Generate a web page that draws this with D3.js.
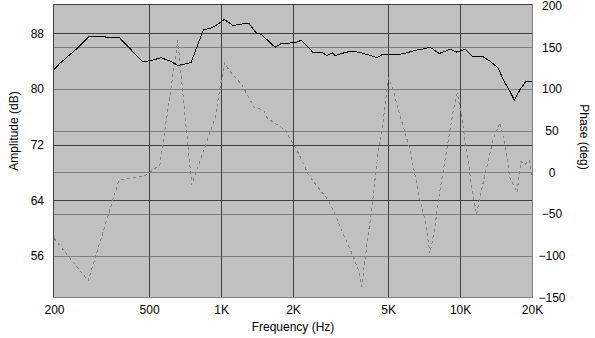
<!DOCTYPE html>
<html>
<head>
<meta charset="utf-8">
<script src="https://cdn.jsdelivr.net/npm/d3@7/dist/d3.min.js"></script>
<style>
  html, body { margin: 0; padding: 0; background: #ffffff; }
  svg { display: block; }
  text { font-family: Arial, "Liberation Sans", sans-serif; fill: #000; }
</style>
</head>
<body>
<svg id="chart" width="595" height="338"></svg>
<script>
// Frequency response measurement: amplitude (solid) and phase (dashed)
const ampFreq = [200,212,253,281,325,330,375,470,489,513,561,612,659,667,749,843,914,950,1032,1125,
  1181,1309,1397,1479,1682,1782,1943,2072,2160,2246,2432,2636,2768,2920,2998,3198,3464,3752,4132,4506,
  4700,5008,5432,5982,6586,7136,7488,8188,8650,9078,9682,10490,11364,12510,13346,14456,15170,15918,16868,17814,
  18878,20000];
const ampDb = [82.8,83.7,86.0,87.6,87.6,87.4,87.4,83.9,84.0,84.1,84.5,84.0,83.4,83.4,83.8,88.5,88.8,89.1,90.0,89.1,
  89.3,89.4,88.1,87.8,86.0,86.5,86.6,86.7,87.0,86.5,85.2,85.3,84.8,85.2,84.8,85.1,85.4,85.3,84.9,84.5,
  84.9,85.0,84.9,85.2,85.6,85.8,86.0,85.1,85.4,85.7,85.3,85.7,84.6,84.6,84.0,83.0,81.3,80.1,78.4,79.9,
  81.1,81.0];

const phaseFreq = [200,278,374,481,555,659,754,943,1032,1090,1220,1300,1374,1502,1561,1852,2072,2208,2318,2594,
  2768,2948,3146,3354,3576,3752,3878,4002,4132,4270,4406,4550,4774,5008,5258,5514,6176,6798,7136,7488,
  7856,8110,8650,9370,9738,10190,10796,11220,11738,12036,12714,13736,14694,15418,16180,17308,17990,18694,19428,20000];
const phaseDeg = [-79,-130,-9,-4,9,158,-15,65,131,121,105,91,78,75,65,51,27,11,-3,-21,
  -31,-45,-65,-83,-101,-117,-137,-105,-73,-45,-9,27,63,113,99,75,27,-33,-57,-97,
  -65,-33,15,75,95,63,15,-21,-50,-33,-3,39,60,33,-7,-24,13,9,15,-4];

const freqTicks = [200,500,1000,2000,5000,10000,20000];
const freqTickLabels = ["200","500","1K","2K","5K","10K","20K"];
const ampTicks = [88,80,72,64,56];
const phaseTicks = [200,150,100,50,0,-50,-100,-150];
const phaseGrid = [150,100,50,0,-50,-100];

const svg = d3.select("#chart");

const x = d3.scaleLog().domain([200, 20000]).range([54, 532]);
const yAmp = d3.scaleLinear().domain([50, 92]).range([297.5, 5.5]);
const yPh = d3.scaleLinear().domain([-150, 200]).range([297.5, 5.5]);

const L = 53, R = 533, T = 4, B = 298;

// plot background
svg.append("rect")
  .attr("x", L).attr("y", T).attr("width", R - L).attr("height", B - T)
  .attr("fill", "#c0c0c0");

const grid = svg.append("g").attr("shape-rendering", "crispEdges");

// amplitude gridlines (dark)
grid.selectAll("line.amp").data(ampTicks).join("line")
  .attr("x1", L).attr("x2", R)
  .attr("y1", d => Math.round(yAmp(d)) + 0.5).attr("y2", d => Math.round(yAmp(d)) + 0.5)
  .attr("stroke", "#404040");

// phase gridlines (mid gray)
grid.selectAll("line.ph").data(phaseGrid).join("line")
  .attr("x1", L).attr("x2", R)
  .attr("y1", d => Math.round(yPh(d)) + 0.5).attr("y2", d => Math.round(yPh(d)) + 0.5)
  .attr("stroke", "#808080");

// frequency gridlines (dark)
grid.selectAll("line.f").data(freqTicks.slice(1, -1)).join("line")
  .attr("x1", d => Math.round(x(d)) + 0.5).attr("x2", d => Math.round(x(d)) + 0.5)
  .attr("y1", T).attr("y2", B)
  .attr("stroke", "#404040");

// sunken frame
grid.append("line").attr("x1", L).attr("x2", R).attr("y1", T + 0.5).attr("y2", T + 0.5).attr("stroke", "#404040").attr("stroke-width", 1.5);
grid.append("line").attr("x1", L + 0.5).attr("x2", L + 0.5).attr("y1", T).attr("y2", B).attr("stroke", "#404040").attr("stroke-width", 1.5);
grid.append("line").attr("x1", L).attr("x2", R).attr("y1", B - 0.5).attr("y2", B - 0.5).attr("stroke", "#808080");
grid.append("line").attr("x1", L).attr("x2", R + 1).attr("y1", B + 0.5).attr("y2", B + 0.5).attr("stroke", "#ffffff");
grid.append("line").attr("x1", R - 0.5).attr("x2", R - 0.5).attr("y1", T).attr("y2", B).attr("stroke", "#808080");
grid.append("line").attr("x1", R + 0.5).attr("x2", R + 0.5).attr("y1", T).attr("y2", B + 1).attr("stroke", "#ffffff");

// phase curve
const phaseLine = d3.line().x(d => x(d[0])).y(d => yPh(d[1]));
svg.append("path")
  .datum(d3.zip(phaseFreq, phaseDeg))
  .attr("d", phaseLine)
  .attr("fill", "none")
  .attr("stroke", "#808080")
  .attr("stroke-width", 1)
  .attr("stroke-dasharray", "3,3")
  .attr("shape-rendering", "crispEdges");

// amplitude curve
const ampLine = d3.line().x(d => x(d[0])).y(d => yAmp(d[1]));
svg.append("path")
  .datum(d3.zip(ampFreq, ampDb))
  .attr("d", ampLine)
  .attr("fill", "none")
  .attr("stroke", "#000000")
  .attr("stroke-width", 1)
  .attr("shape-rendering", "crispEdges");

// axes (labels only)
const fontSize = "12px";
const xAxis = svg.append("g").attr("transform", `translate(0,${B})`)
  .call(d3.axisBottom(x).tickValues(freqTicks)
    .tickFormat((d, i) => freqTickLabels[i]).tickSize(0).tickPadding(7));
const yAxisL = svg.append("g").attr("transform", `translate(54,0)`)
  .call(d3.axisLeft(yAmp).tickValues(ampTicks).tickFormat(d3.format("d")).tickSize(0).tickPadding(10));
const yAxisR = svg.append("g").attr("transform", `translate(532,0)`)
  .call(d3.axisRight(yPh).tickValues(phaseTicks).tickFormat(d3.format("d")).tickSize(0).tickPadding(20));
yAxisR.selectAll("text").attr("text-anchor", "middle");

[xAxis, yAxisL, yAxisR].forEach(g => {
  g.select(".domain").remove();
  g.selectAll("text").attr("font-size", fontSize).attr("font-family", "Arial, 'Liberation Sans', sans-serif").attr("fill", "#000");
});

// axis titles
svg.append("text")
  .attr("x", 293).attr("y", 330.5)
  .attr("text-anchor", "middle").attr("font-size", "12px")
  .text("Frequency (Hz)");

svg.append("text")
  .attr("transform", "translate(17.5,131) rotate(-90)")
  .attr("text-anchor", "middle").attr("font-size", "12px")
  .text("Amplitude (dB)");

svg.append("text")
  .attr("transform", "translate(580,137) rotate(90)")
  .attr("text-anchor", "middle").attr("font-size", "12px")
  .text("Phase (deg)");
</script>
</body>
</html>
